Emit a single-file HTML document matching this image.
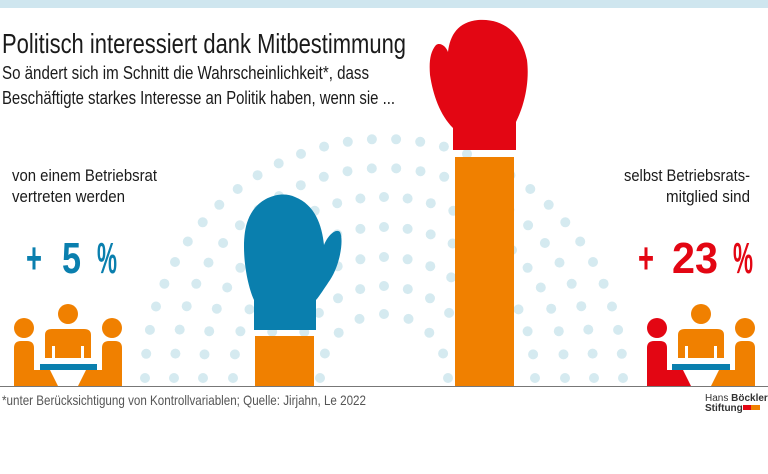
<!DOCTYPE html>
<html><head><meta charset="utf-8"><style>
html,body{margin:0;padding:0;background:#fff;}
svg{display:block;}
text{font-family:"Liberation Sans Narrow","Liberation Sans",sans-serif;}
</style></head><body>
<svg id="s" width="768" height="474" viewBox="0 0 768 474" xmlns="http://www.w3.org/2000/svg">
<rect x="0" y="0" width="768" height="8" fill="#cfe6ef"/>
<g id="dots" fill="#d5eaf0"></g>
<text x="2" y="53" font-size="28" fill="#1a1a1a" textLength="404" lengthAdjust="spacingAndGlyphs">Politisch interessiert dank Mitbestimmung</text>
<text x="2" y="79" font-size="18" fill="#1a1a1a" textLength="367" lengthAdjust="spacingAndGlyphs">So ändert sich im Schnitt die Wahrscheinlichkeit*, dass</text>
<text x="2" y="104" font-size="18" fill="#1a1a1a" textLength="393" lengthAdjust="spacingAndGlyphs">Beschäftigte starkes Interesse an Politik haben, wenn sie ...</text>
<text x="12" y="181" font-size="17" fill="#1a1a1a" textLength="145" lengthAdjust="spacingAndGlyphs">von einem Betriebsrat</text>
<text x="12" y="202" font-size="17" fill="#1a1a1a" textLength="113" lengthAdjust="spacingAndGlyphs">vertreten werden</text>
<text x="624" y="181" font-size="17" fill="#1a1a1a" textLength="126" lengthAdjust="spacingAndGlyphs">selbst Betriebsrats-</text>
<text x="666" y="202" font-size="17" fill="#1a1a1a" textLength="84" lengthAdjust="spacingAndGlyphs">mitglied sind</text>
<g font-size="44" font-weight="bold" fill="#0a7fae">
<text x="26" y="273" textLength="16" lengthAdjust="spacingAndGlyphs">+</text>
<text x="62" y="273" textLength="19" lengthAdjust="spacingAndGlyphs">5</text>
<text x="97" y="273" textLength="20" lengthAdjust="spacingAndGlyphs">%</text>
</g>
<g font-size="44" font-weight="bold" fill="#e30613">
<text x="638" y="273" textLength="16" lengthAdjust="spacingAndGlyphs">+</text>
<text x="672" y="273" textLength="46" lengthAdjust="spacingAndGlyphs">23</text>
<text x="733" y="273" textLength="20" lengthAdjust="spacingAndGlyphs">%</text>
</g>
<!-- bars -->
<rect x="255" y="336" width="59" height="50" fill="#f08000"/>
<rect x="455" y="157" width="59" height="229" fill="#f08000"/>
<!-- blue mitten -->
<path d="M254,330 L254,300 C245,280 240,240 248,220 C256,198 280,190 295,197 C315,205 322,225 324,245 C328,235 336,228 340,232 C344,240 340,265 330,280 C322,292 318,298 316,300 L316,330 Z" fill="#0a7fae"/>
<!-- red mitten -->
<path d="M453,150 L453,128 C440,115 433,95 430,75 C429,62 430,52 436,45 C440,42 446,46 448,52 C450,35 458,22 478,20 C505,18 522,35 527,60 C530,85 523,108 516,122 L516,150 Z" fill="#e30613"/>
<!-- left people -->
<g fill="#f08000">
<circle cx="24" cy="328" r="10"/>
<circle cx="68" cy="314" r="10"/>
<circle cx="112" cy="328" r="10"/>
<path d="M14,348 Q14,341 21,341 L27,341 Q34,341 34,348 L34,370 L50,370 L58,386 L14,386 Z"/>
<path d="M122,348 Q122,341 115,341 L109,341 Q102,341 102,348 L102,370 L86,370 L78,386 L122,386 Z"/>
<path d="M45,335 Q45,329 52,329 L84,329 Q91,329 91,335 L91,358 L84,358 L84,346 L81,346 L81,358 L55,358 L55,346 L52,346 L52,358 L45,358 Z"/>
</g>
<rect x="40" y="364" width="57" height="6" fill="#0a7fae"/>
<!-- right people -->
<circle cx="657" cy="328" r="10" fill="#e30613"/>
<circle cx="701" cy="314" r="10" fill="#f08000"/>
<circle cx="745" cy="328" r="10" fill="#f08000"/>
<path d="M647,348 Q647,341 654,341 L660,341 Q667,341 667,348 L667,370 L683,370 L691,386 L647,386 Z" fill="#e30613"/>
<path d="M755,348 Q755,341 748,341 L742,341 Q735,341 735,348 L735,370 L719,370 L711,386 L755,386 Z" fill="#f08000"/>
<path d="M678,335 Q678,329 685,329 L717,329 Q724,329 724,335 L724,358 L717,358 L717,346 L714,346 L714,358 L688,358 L688,346 L685,346 L685,358 L678,358 Z" fill="#f08000"/>
<rect x="672" y="364" width="58" height="6" fill="#0a7fae"/>
<line x1="0" y1="386.5" x2="768" y2="386.5" stroke="#777" stroke-width="1"/>
<text x="2" y="405" font-size="14" fill="#555" textLength="364" lengthAdjust="spacingAndGlyphs">*unter Berücksichtigung von Kontrollvariablen; Quelle: Jirjahn, Le 2022</text>
<text x="705" y="401" font-size="10" fill="#333">Hans <tspan font-weight="bold">Böckler</tspan></text>
<text x="705" y="411" font-size="10" fill="#333" font-weight="bold">Stiftung</text>
<rect x="743" y="405" width="8" height="5" fill="#e30613"/>
<rect x="751" y="405" width="9" height="5" fill="#f08000"/>
</svg>
<script>
var g=document.getElementById('dots'),ns='http://www.w3.org/2000/svg';
var cx=384,cy=378,radii=[64,92,121,151,181,210,239];
radii.forEach(function(r,i){
  var n=Math.round(Math.PI*r/24);
  for(var k=0;k<=n;k++){
    var a=Math.PI*k/n;
    var x=cx-Math.cos(a)*r, y=cy-Math.sin(a)*r;
    var c=document.createElementNS(ns,'circle');
    c.setAttribute('cx',x.toFixed(1));c.setAttribute('cy',y.toFixed(1));c.setAttribute('r','5');
    g.appendChild(c);
  }
});
</script>
</body></html>
